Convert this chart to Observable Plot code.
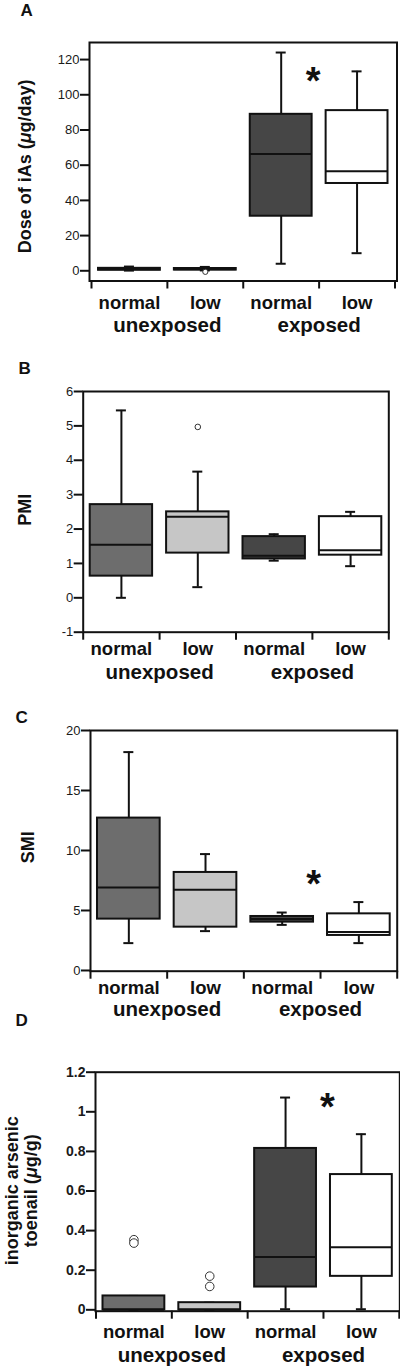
<!DOCTYPE html>
<html><head><meta charset="utf-8">
<script src="https://cdn.jsdelivr.net/npm/d3@7"></script>
<script src="https://cdn.jsdelivr.net/npm/@observablehq/plot@0.6"></script>
<style>
body{margin:0;background:#fff;}
#fig{position:relative;width:400px;height:1367px;overflow:hidden;background:#fff;}
#fig svg{position:absolute;left:0;overflow:visible;background:transparent;}
</style></head><body><div id="fig"></div>
<script>
// ---- shared categories ----
const categories = ["normal", "low", "normal", "low"];
const groups = ["unexposed", "exposed"];
const groupPos = [1, 3];
const boxFills = ["#6d6d6d", "#c6c6c6", "#464646", "#ffffff"];

// ---- Panel A: dose of iAs ----
const doseMin = [0.1, 0.2, 4, 10];
const doseQ1 = [0.3, 0.4, 31, 49.6];
const doseMedian = [0.9, 0.9, 66.3, 56.5];
const doseQ3 = [1.4, 1.3, 88.9, 91];
const doseMax = [2.4, 2.2, 124, 113.3];
const doseOutIdx = [1];
const doseOutVal = [-0.6];
const doseTicks = [0, 20, 40, 60, 80, 100, 120];
const doseStar = [{x: 3, y: 113}];

// ---- Panel B: PMI ----
const pmiMin = [0, 0.31, 1.08, 0.92];
const pmiQ1 = [0.63, 1.3, 1.13, 1.24];
const pmiMedian = [1.54, 2.36, 1.22, 1.38];
const pmiQ3 = [2.71, 2.5, 1.78, 2.36];
const pmiMax = [5.45, 3.67, 1.85, 2.5];
const pmiOutIdx = [1];
const pmiOutVal = [4.97];
const pmiTicks = [-1, 0, 1, 2, 3, 4, 5, 6];

// ---- Panel C: SMI ----
const smiMin = [2.28, 3.28, 3.8, 2.28];
const smiQ1 = [4.28, 3.61, 4.03, 2.92];
const smiMedian = [6.92, 6.72, 4.28, 3.2];
const smiQ3 = [12.7, 8.17, 4.5, 4.72];
const smiMax = [18.2, 9.7, 4.83, 5.7];
const smiOutIdx = [];
const smiOutVal = [];
const smiTicks = [0, 5, 10, 15, 20];
const smiStar = [{x: 3, y: 8}];

// ---- Panel D: inorganic arsenic toenail ----
const toeMin = [0, 0, 0.003, 0.003];
const toeQ1 = [0, 0, 0.115, 0.169];
const toeMedian = [0, 0, 0.267, 0.316];
const toeQ3 = [0.07, 0.036, 0.815, 0.683];
const toeMax = [0.07, 0.036, 1.072, 0.887];
const toeOutIdx = [0, 0, 1, 1];
const toeOutVal = [0.354, 0.337, 0.17, 0.118];
const toeTicks = [0, 0.2, 0.4, 0.6, 0.8, 1, 1.2];
const toeStar = [{x: 3, y: 1.07}];

const FONT = "'Liberation Sans', Arial, Helvetica, sans-serif";
const INK = "#111";

function panel(c) {
  const rows = categories.map((cat, i) => ({
    i, cat, min: c.min[i], q1: c.q1[i], median: c.median[i], q3: c.q3[i], max: c.max[i], fill: boxFills[i]
  }));
  const outs = c.outIdx.map((i, k) => ({i, v: c.outVal[k]}));
  const bandPx = (400 - c.ml - c.mr - 2 * c.xInset) / 4;
  const capInset = (bandPx - 10) / 2;
  const boxInset = 7;
  const marks = [
    Plot.frame({stroke: INK, strokeWidth: 2}),
    Plot.axisY({ticks: c.ticks, tickSize: 9, tickPadding: 1, tickFormat: d => String(d),
      fontSize: c.tickFont, fontWeight: c.tickWeight, strokeWidth: 2, label: null, fill: "#1a1a1a"}),
    Plot.axisX({ticks: [0, 1, 2, 3, 4], tickSize: 8, tickFormat: () => "", strokeWidth: 2, label: null}),
    Plot.ruleX(rows, {x: d => d.i + 0.5, y1: "min", y2: "q1", stroke: INK, strokeWidth: 2}),
    Plot.ruleX(rows, {x: d => d.i + 0.5, y1: "q3", y2: "max", stroke: INK, strokeWidth: 2}),
    Plot.ruleY(rows, {x1: d => d.i, x2: d => d.i + 1, y: "min", insetLeft: capInset, insetRight: capInset, stroke: INK, strokeWidth: 2}),
    Plot.ruleY(rows, {x1: d => d.i, x2: d => d.i + 1, y: "max", insetLeft: capInset, insetRight: capInset, stroke: INK, strokeWidth: 2}),
    Plot.rect(rows, {x1: d => d.i, x2: d => d.i + 1, y1: "q1", y2: "q3", insetLeft: boxInset, insetRight: boxInset,
      fill: "fill", stroke: INK, strokeWidth: 2}),
    Plot.ruleY(rows, {x1: d => d.i, x2: d => d.i + 1, y: "median", insetLeft: boxInset, insetRight: boxInset, stroke: INK, strokeWidth: 2}),
    Plot.dot(outs, {x: d => d.i + 0.5, y: "v", r: c.outR, stroke: "#333", fill: "white", strokeWidth: 1}),
    Plot.text(rows, {x: d => d.i + 0.5, text: "cat", frameAnchor: "bottom", dy: c.catDy, lineAnchor: "bottom",
      fontSize: 18.5, fontWeight: "bold", fill: INK}),
    Plot.text(groups, {x: (d, i) => groupPos[i], text: d => d, frameAnchor: "bottom", dy: c.grpDy, lineAnchor: "bottom",
      fontSize: 20.5, fontWeight: "bold", fill: INK}),
    Plot.text([c.letter], {frameAnchor: "top-left", textAnchor: "start", lineAnchor: "bottom", dx: c.letterDx, dy: c.letterDy,
      text: d => d, fontSize: 17, fontWeight: "bold", fill: INK}),
    ...c.titles.map(t => Plot.text([t.text], {frameAnchor: "left", rotate: -90, dx: t.dx, dy: t.dy, text: d => d,
      lineAnchor: "middle", textAnchor: "middle", fontSize: 18, fontWeight: "bold", fill: INK}))
  ];
  if (c.star) marks.push(Plot.text(c.star, {x: "x", y: "y", text: () => "*", dx: c.starDx, dy: 10,
    fontSize: 38, fontWeight: "bold", fill: INK}));
  const svg = Plot.plot({
    width: 400, height: c.height,
    marginTop: c.mt, marginRight: c.mr, marginBottom: c.mb, marginLeft: c.ml,
    x: {domain: [0, 4], inset: c.xInset},
    y: {domain: c.yDomain},
    color: {type: "identity"},
    style: {fontFamily: FONT, color: INK, background: "transparent", overflow: "visible"},
    marks
  });
  // italic mu
  svg.querySelectorAll("text").forEach(t => {
    if (t.children.length === 0 && t.textContent.includes("μ")) {
      const parts = t.textContent.split("μ");
      t.textContent = "";
      parts.forEach((p, k) => {
        if (k > 0) {
          const ts = document.createElementNS("http://www.w3.org/2000/svg", "tspan");
          ts.setAttribute("font-style", "italic");
          ts.textContent = "μ";
          t.appendChild(ts);
        }
        t.appendChild(document.createTextNode(p));
      });
    }
  });
  svg.style.top = c.top + "px";
  document.getElementById("fig").appendChild(svg);
}

panel({top: 0, height: 345, ml: 89, mr: 3.5, mt: 42, mb: 64.5, xInset: 2, yDomain: [-5.8, 129.7],
  min: doseMin, q1: doseQ1, median: doseMedian, q3: doseQ3, max: doseMax, outIdx: doseOutIdx, outVal: doseOutVal,
  ticks: doseTicks, tickFont: 13, tickWeight: "normal", outR: 2.6, catDy: 27.8, grpDy: 51.2,
  letter: "A", letterDx: -69, letterDy: -27,
  titles: [{text: "Dose of iAs (μg/day)", dx: -64, dy: 4.6}], star: doseStar, starDx: -6});

panel({top: 345, height: 345, ml: 82.7, mr: 11.7, mt: 46, mb: 58.3, xInset: 0, yDomain: [-1, 6],
  min: pmiMin, q1: pmiQ1, median: pmiMedian, q3: pmiQ3, max: pmiMax, outIdx: pmiOutIdx, outVal: pmiOutVal,
  ticks: pmiTicks, tickFont: 13, tickWeight: "normal", outR: 2.8, catDy: 22.3, grpDy: 46.6,
  letter: "B", letterDx: -64.7, letterDy: -18,
  titles: [{text: "PMI", dx: -57.7, dy: -2}]});

panel({top: 690, height: 330, ml: 90, mr: 3.3, mt: 40, mb: 49.3, xInset: 0, yDomain: [-0.06, 20],
  min: smiMin, q1: smiQ1, median: smiMedian, q3: smiQ3, max: smiMax, outIdx: smiOutIdx, outVal: smiOutVal,
  ticks: smiTicks, tickFont: 13, tickWeight: "normal", outR: 2.8, catDy: 22.6, grpDy: 44.3,
  letter: "C", letterDx: -75, letterDy: -8,
  titles: [{text: "SMI", dx: -62, dy: -3.7}], star: smiStar, starDx: -7});

panel({top: 1000, height: 367, ml: 95, mr: 0.7, mt: 71.7, mb: 56.3, xInset: 0.5, yDomain: [-0.007, 1.2],
  min: toeMin, q1: toeQ1, median: toeMedian, q3: toeQ3, max: toeMax, outIdx: toeOutIdx, outVal: toeOutVal,
  ticks: toeTicks, tickFont: 14, tickWeight: "bold", outR: 4.3, catDy: 26.6, grpDy: 51,
  letter: "D", letterDx: -80, letterDy: -46.7,
  titles: [{text: "inorganic arsenic", dx: -83, dy: -1}, {text: "toenail (μg/g)", dx: -64, dy: -1}],
  star: toeStar, starDx: 4});
</script>
</body></html>
